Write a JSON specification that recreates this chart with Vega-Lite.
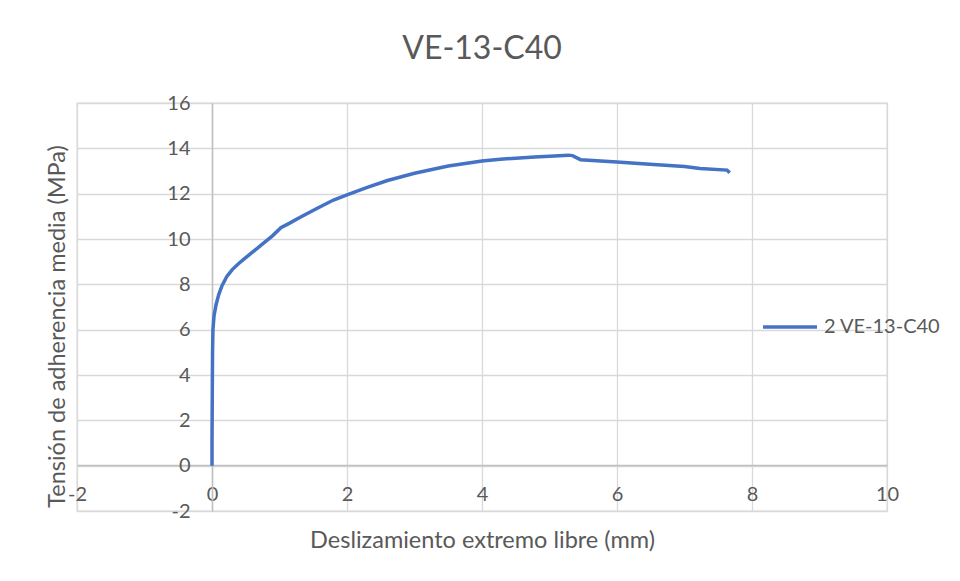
{
  "$schema": "https://vega.github.io/schema/vega-lite/v6.json",
  "width": 810,
  "height": 408,
  "autosize": {"type": "none"},
  "padding": {"left": 77, "top": 103, "right": 73, "bottom": 70},
  "background": "white",
  "title": {
    "text": "VE-13-C40",
    "anchor": "middle",
    "frame": "group",
    "font": "Lato",
    "fontSize": 32,
    "fontWeight": "normal",
    "color": "#595959",
    "baseline": "alphabetic",
    "offset": 2
  },
  "data": {
    "values": [
      {"x": 0.0, "y": 0.0, "s": "2 VE-13-C40"},
      {"x": 0.0, "y": 1.0, "s": "2 VE-13-C40"},
      {"x": 0.004, "y": 3.0, "s": "2 VE-13-C40"},
      {"x": 0.008, "y": 5.0, "s": "2 VE-13-C40"},
      {"x": 0.014, "y": 6.0, "s": "2 VE-13-C40"},
      {"x": 0.03, "y": 6.6, "s": "2 VE-13-C40"},
      {"x": 0.06, "y": 7.1, "s": "2 VE-13-C40"},
      {"x": 0.1, "y": 7.55, "s": "2 VE-13-C40"},
      {"x": 0.15, "y": 7.95, "s": "2 VE-13-C40"},
      {"x": 0.22, "y": 8.35, "s": "2 VE-13-C40"},
      {"x": 0.3, "y": 8.65, "s": "2 VE-13-C40"},
      {"x": 0.4, "y": 8.93, "s": "2 VE-13-C40"},
      {"x": 0.5, "y": 9.18, "s": "2 VE-13-C40"},
      {"x": 0.6, "y": 9.42, "s": "2 VE-13-C40"},
      {"x": 0.75, "y": 9.78, "s": "2 VE-13-C40"},
      {"x": 0.9, "y": 10.15, "s": "2 VE-13-C40"},
      {"x": 1.02, "y": 10.5, "s": "2 VE-13-C40"},
      {"x": 1.15, "y": 10.7, "s": "2 VE-13-C40"},
      {"x": 1.3, "y": 10.95, "s": "2 VE-13-C40"},
      {"x": 1.56, "y": 11.36, "s": "2 VE-13-C40"},
      {"x": 1.8, "y": 11.72, "s": "2 VE-13-C40"},
      {"x": 2.0, "y": 11.95, "s": "2 VE-13-C40"},
      {"x": 2.3, "y": 12.28, "s": "2 VE-13-C40"},
      {"x": 2.6, "y": 12.58, "s": "2 VE-13-C40"},
      {"x": 3.0, "y": 12.9, "s": "2 VE-13-C40"},
      {"x": 3.5, "y": 13.22, "s": "2 VE-13-C40"},
      {"x": 4.0, "y": 13.44, "s": "2 VE-13-C40"},
      {"x": 4.27, "y": 13.52, "s": "2 VE-13-C40"},
      {"x": 4.78, "y": 13.62, "s": "2 VE-13-C40"},
      {"x": 5.0, "y": 13.65, "s": "2 VE-13-C40"},
      {"x": 5.28, "y": 13.7, "s": "2 VE-13-C40"},
      {"x": 5.34, "y": 13.68, "s": "2 VE-13-C40"},
      {"x": 5.46, "y": 13.5, "s": "2 VE-13-C40"},
      {"x": 6.0, "y": 13.4, "s": "2 VE-13-C40"},
      {"x": 6.54, "y": 13.29, "s": "2 VE-13-C40"},
      {"x": 7.0, "y": 13.2, "s": "2 VE-13-C40"},
      {"x": 7.23, "y": 13.11, "s": "2 VE-13-C40"},
      {"x": 7.63, "y": 13.04, "s": "2 VE-13-C40"},
      {"x": 7.67, "y": 12.92, "s": "2 VE-13-C40"}
    ]
  },
  "mark": {"type": "line", "strokeWidth": 3.5, "interpolate": "linear"},
  "encoding": {
    "x": {
      "field": "x",
      "type": "quantitative",
      "scale": {"domain": [-2, 10], "nice": false, "zero": false},
      "axis": {
        "title": "Deslizamiento extremo libre (mm)",
        "values": [-2, 0, 2, 4, 6, 8, 10],
        "labelExpr": "'' + datum.value",
        "offset": -46,
        "ticks": false,
        "labelPadding": 19,
        "labelFlush": false,
        "titleY": 75,
        "titleBaseline": "middle"
      }
    },
    "y": {
      "field": "y",
      "type": "quantitative",
      "scale": {"domain": [-2, 16], "nice": false, "zero": false},
      "axis": {
        "title": "Tensión de adherencia media (MPa)",
        "values": [-2, 0, 2, 4, 6, 8, 10, 12, 14, 16],
        "labelExpr": "'' + datum.value",
        "offset": -135,
        "ticks": false,
        "labelPadding": 22,
        "titleX": -155,
        "titleY": 223,
        "titleBaseline": "middle"
      }
    },
    "color": {
      "field": "s",
      "type": "nominal",
      "scale": {"range": ["#4472C4"]},
      "legend": {
        "title": null,
        "orient": "none",
        "legendX": 684,
        "legendY": 195,
        "symbolType": "stroke",
        "symbolSize": 2916,
        "symbolStrokeWidth": 3.5,
        "labelOffset": 5,
        "padding": 0
      }
    }
  },
  "config": {
    "font": "Lato",
    "view": {"stroke": "#d9d9d9", "strokeWidth": 1.3},
    "axis": {
      "grid": true,
      "gridColor": "#d9d9d9",
      "gridWidth": 1.3,
      "domainColor": "#bfbfbf",
      "domainWidth": 1.5,
      "labelFont": "Lato",
      "labelFontSize": 20,
      "labelColor": "#595959",
      "titleFont": "Lato",
      "titleFontSize": 23.5,
      "titleFontWeight": "normal",
      "titleColor": "#595959"
    },
    "legend": {
      "labelFont": "Lato",
      "labelFontSize": 20,
      "labelColor": "#595959",
      "labelLimit": 300
    }
  }
}
